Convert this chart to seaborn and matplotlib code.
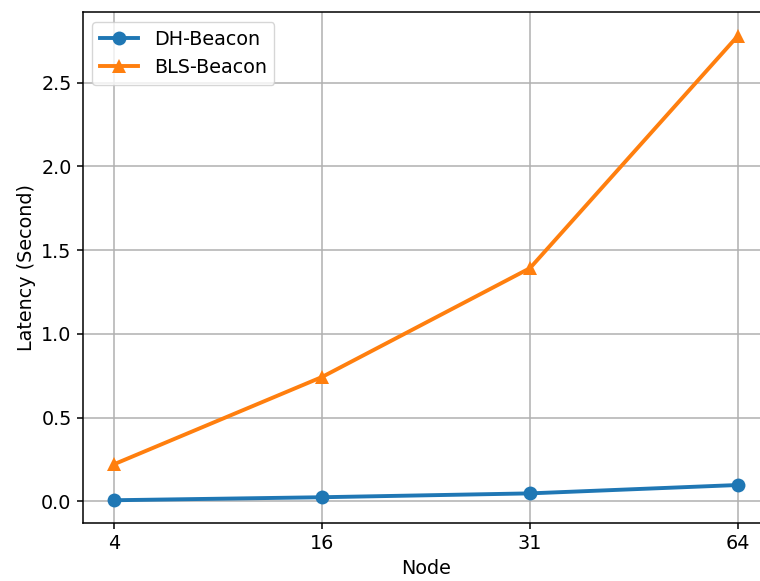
import matplotlib
matplotlib.use("Agg")
import matplotlib.pyplot as plt
import seaborn as sns
import pandas as pd

nodes = ["4", "16", "31", "64"]
dh_beacon = [0.006, 0.024, 0.047, 0.097]
bls_beacon = [0.221, 0.742, 1.392, 2.780]

df = pd.DataFrame({
    "Node": nodes * 2,
    "Latency": dh_beacon + bls_beacon,
    "Series": ["DH-Beacon"] * 4 + ["BLS-Beacon"] * 4,
})

plt.rcParams['font.family'] = ['DejaVu Sans']
plt.rcParams['font.size'] = 13.8

fig = plt.figure(figsize=(7.6, 5.81), dpi=100)
ax = fig.add_axes([0.109, 0.0998, 0.903, 0.879])

sns.lineplot(data=df[df.Series == "DH-Beacon"], x="Node", y="Latency", ax=ax,
             color="#1f77b4", marker="o", markersize=10, linewidth=2.8,
             markeredgewidth=0, label="DH-Beacon", sort=False)
sns.lineplot(data=df[df.Series == "BLS-Beacon"], x="Node", y="Latency", ax=ax,
             color="#ff7f0e", marker="^", markersize=10.5, linewidth=2.8,
             markeredgewidth=0, label="BLS-Beacon", sort=False)

ax.set_xlim(-0.15, 3.15)
ax.set_ylim(-0.13, 2.92)
ax.set_xlabel("Node")
ax.set_ylabel("Latency (Second)")
ax.grid(True, color="#b0b0b0", linewidth=1.1)
ax.set_axisbelow(True)
ax.tick_params(length=4.6, width=1.1)
for s in ax.spines.values():
    s.set_linewidth(1.1)
ax.legend(loc="upper left", frameon=True, fontsize=13.8)

fig.savefig("out.png", dpi=100)
